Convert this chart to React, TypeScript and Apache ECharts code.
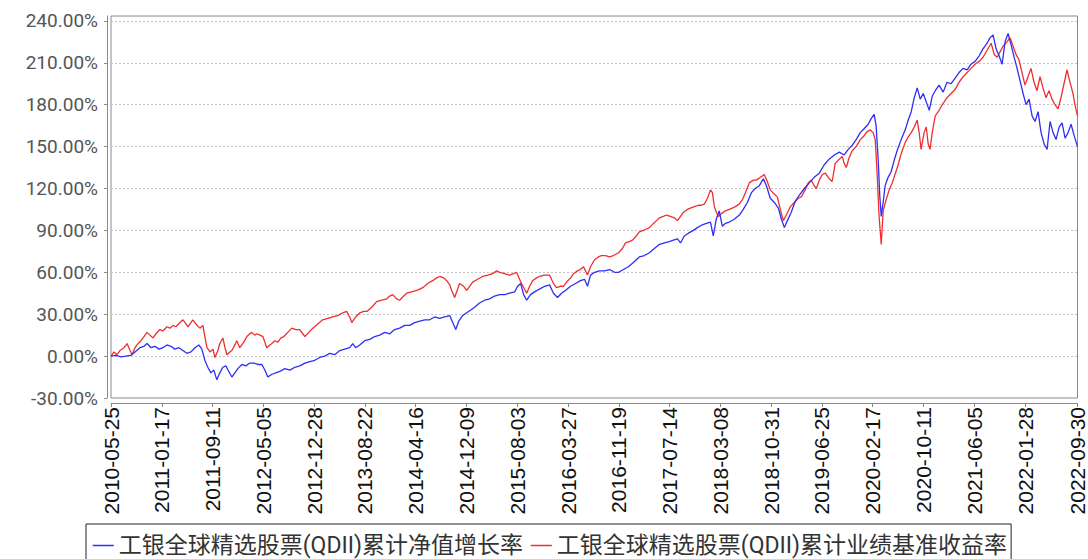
import React, { useEffect, useRef } from "react";
import * as echarts from "echarts";

// Fund inception date; x values are days since this date
const START_DATE = "2010-05-25";
const END_DAY = 4511; // 2022-09-30

const seriesNames = [
  "工银全球精选股票(QDII)累计净值增长率",
  "工银全球精选股票(QDII)累计业绩基准收益率",
];

// x-axis tick positions (days since start) and y-axis tick values (%)
const xTickDays = [0, 237, 474, 711, 948, 1185, 1422, 1659, 1896, 2133, 2370, 2607, 2844, 3081, 3318, 3555, 3792, 4029, 4266, 4511];
const yTickValues = [-30, 0, 30, 60, 90, 120, 150, 180, 210, 240];

// 累计净值增长率 (blue)
const navDays = [
  0, 23, 47, 70, 93, 112, 135, 154, 168, 187, 205, 224, 242, 261, 280, 298, 317, 336, 354, 373,
  392, 410, 424, 438, 452, 466, 480, 494, 508, 522, 536, 550, 564, 578, 592, 611, 629, 648, 667, 685,
  704, 718, 732, 751, 769, 788, 811, 835, 858, 881, 905, 928, 951, 974, 998, 1021, 1044, 1068, 1091, 1114,
  1128, 1142, 1161, 1184, 1208, 1231, 1254, 1278, 1301, 1324, 1347, 1371, 1394, 1417, 1441, 1464, 1487, 1511, 1534, 1557,
  1581, 1595, 1609, 1623, 1641, 1660, 1679, 1697, 1720, 1744, 1767, 1790, 1814, 1837, 1860, 1884, 1898, 1912, 1926, 1940,
  1958, 1977, 2000, 2024, 2047, 2065, 2084, 2103, 2121, 2145, 2168, 2191, 2210, 2224, 2238, 2257, 2280, 2303, 2327, 2350,
  2369, 2392, 2415, 2438, 2466, 2490, 2513, 2536, 2560, 2583, 2606, 2625, 2644, 2658, 2676, 2695, 2718, 2737, 2760, 2779,
  2798, 2811, 2825, 2839, 2853, 2867, 2886, 2909, 2933, 2951, 2970, 2989, 3007, 3026, 3045, 3059, 3077, 3096, 3115, 3129,
  3143, 3157, 3175, 3194, 3212, 3236, 3259, 3282, 3306, 3329, 3352, 3376, 3399, 3422, 3441, 3460, 3478, 3497, 3516, 3534,
  3548, 3562, 3571, 3581, 3588, 3595, 3604, 3613, 3627, 3641, 3655, 3669, 3688, 3707, 3721, 3735, 3749, 3763, 3777, 3791,
  3805, 3819, 3833, 3847, 3865, 3884, 3902, 3921, 3940, 3958, 3977, 3996, 4014, 4033, 4052, 4070, 4089, 4103, 4117, 4131,
  4145, 4159, 4173, 4187, 4201, 4215, 4229, 4243, 4257, 4271, 4285, 4299, 4313, 4327, 4341, 4355, 4369, 4383, 4397, 4411,
  4425, 4439, 4453, 4467, 4481, 4495, 4511,
];
const navPct = [
  0, 0.5, -0.5, 0, 0.5, 3, 6, 7, 9, 6, 7, 5, 6, 8, 7, 5, 6, 4, 2, 3,
  6, 8, 5, -3, -8, -12, -10, -17, -12, -8, -7, -11, -15, -12, -9, -6, -7, -5, -5, -6,
  -6, -10, -15, -13, -12, -11, -9, -10, -8, -7, -5, -4, -3, -1, 0, 2, 1, 4, 5, 6,
  9, 6, 8, 11, 12, 14, 15, 17, 16, 19, 20, 22, 22, 24, 25, 26, 26, 28, 27, 28,
  29, 24, 19, 25, 29, 31, 33, 35, 38, 40, 41, 43, 44, 44, 45, 46, 50, 52, 44, 40,
  44, 46, 48, 50, 51, 45, 42, 45, 47, 50, 52, 54, 55, 50, 58, 60, 61, 61, 62, 60,
  60, 62, 64, 67, 71, 72, 74, 77, 80, 81, 82, 83, 84, 81, 86, 88, 90, 92, 94, 95,
  96, 86, 98, 104, 93, 95, 96, 98, 101, 105, 110, 117, 120, 122, 127, 122, 113, 110, 106, 98,
  92, 97, 103, 111, 115, 120, 124, 128, 131, 137, 141, 144, 146, 144, 148, 151, 155, 160, 163, 166,
  170, 173, 165, 140, 115, 100, 110, 122, 128, 132, 140, 147, 155, 162, 169, 175, 185, 192, 184, 188,
  182, 176, 186, 190, 194, 189, 196, 195, 199, 203, 206, 205, 209, 211, 215, 220, 224, 228, 230, 220,
  215, 209, 225, 231, 223, 214, 206, 197, 188, 180, 184, 172, 168, 175, 160, 152, 148, 168, 160, 155,
  164, 167, 156, 160, 166, 158, 150,
];

// 累计业绩基准收益率 (red)
const benchDays = [
  0, 14, 28, 42, 61, 75, 89, 98, 112, 126, 140, 154, 168, 182, 196, 210, 228, 242, 261, 275,
  289, 303, 322, 336, 350, 359, 373, 382, 396, 415, 429, 438, 448, 462, 476, 485, 499, 508, 522, 532,
  541, 555, 564, 578, 587, 601, 620, 634, 648, 657, 671, 681, 695, 709, 718, 727, 741, 751, 765, 779,
  793, 807, 825, 844, 863, 881, 895, 905, 923, 942, 965, 988, 1012, 1035, 1058, 1082, 1100, 1114, 1124, 1142,
  1161, 1180, 1194, 1217, 1240, 1264, 1287, 1301, 1315, 1333, 1347, 1366, 1380, 1403, 1427, 1441, 1455, 1478, 1501, 1520,
  1534, 1553, 1567, 1581, 1590, 1604, 1618, 1627, 1646, 1660, 1674, 1688, 1711, 1734, 1758, 1781, 1800, 1814, 1837, 1860,
  1879, 1893, 1907, 1916, 1930, 1940, 1954, 1968, 1986, 2000, 2024, 2047, 2065, 2079, 2098, 2112, 2126, 2145, 2159, 2177,
  2191, 2205, 2215, 2224, 2238, 2257, 2275, 2289, 2308, 2327, 2345, 2369, 2387, 2401, 2420, 2434, 2452, 2466, 2485, 2499,
  2513, 2532, 2546, 2560, 2578, 2592, 2611, 2630, 2644, 2658, 2672, 2690, 2704, 2723, 2742, 2756, 2770, 2784, 2798, 2807,
  2816, 2825, 2835, 2849, 2867, 2886, 2900, 2914, 2933, 2947, 2961, 2979, 2998, 3012, 3031, 3049, 3063, 3077, 3096, 3110,
  3124, 3138, 3152, 3171, 3189, 3208, 3222, 3240, 3254, 3268, 3282, 3292, 3306, 3320, 3334, 3352, 3366, 3380, 3399, 3413,
  3422, 3432, 3445, 3459, 3478, 3497, 3511, 3525, 3543, 3557, 3567, 3576, 3585, 3595, 3604, 3618, 3632, 3646, 3655, 3674,
  3688, 3707, 3721, 3735, 3749, 3763, 3772, 3781, 3795, 3805, 3814, 3823, 3833, 3847, 3865, 3884, 3902, 3921, 3940, 3958,
  3977, 3996, 4014, 4033, 4052, 4070, 4089, 4108, 4122, 4136, 4150, 4164, 4182, 4196, 4210, 4224, 4238, 4252, 4266, 4280,
  4294, 4308, 4322, 4336, 4350, 4364, 4378, 4392, 4406, 4420, 4434, 4448, 4462, 4476, 4490, 4499, 4511,
];
const benchPct = [
  0, 3, 1, 4, 6, 9, 4, 1, 6, 9, 11, 14, 17, 15, 13, 16, 19, 18, 21, 20,
  22, 21, 24, 26, 23, 21, 24, 26, 23, 20, 22, 14, 6, 3, 5, -1, 4, 9, 13, 6,
  1, 3, 4, 8, 11, 6, 10, 14, 16, 17, 15, 16, 15, 14, 10, 6, 8, 9, 11, 10,
  13, 14, 17, 20, 19, 19, 16, 14, 17, 20, 23, 26, 27, 28, 29, 31, 32, 28, 24, 28,
  31, 32, 32, 35, 39, 40, 41, 43, 44, 41, 40, 43, 45, 46, 47, 48, 49, 52, 54, 56,
  57, 56, 54, 51, 47, 42, 48, 52, 50, 47, 50, 53, 55, 57, 58, 59, 61, 60, 59, 58,
  59, 60, 55, 52, 48, 45, 50, 54, 56, 57, 58, 58, 52, 49, 50, 50, 53, 56, 59, 61,
  62, 64, 61, 58, 64, 69, 71, 72, 72, 71, 72, 74, 77, 81, 82, 83, 86, 89, 90, 91,
  92, 95, 97, 99, 100, 101, 100, 99, 97, 100, 103, 105, 106, 107, 108, 108, 109, 113, 119, 117,
  107, 103, 100, 102, 104, 105, 106, 107, 109, 112, 117, 124, 126, 126, 128, 130, 125, 119, 116, 114,
  105, 97, 101, 107, 110, 113, 114, 119, 124, 126, 122, 120, 126, 130, 131, 127, 125, 138, 141, 143,
  138, 135, 142, 147, 150, 155, 157, 160, 162, 160, 155, 130, 100, 80, 104, 112, 119, 124, 128, 137,
  145, 153, 157, 160, 164, 169, 160, 148, 160, 164, 152, 148, 160, 172, 176, 181, 185, 188, 191, 196,
  200, 203, 206, 209, 211, 214, 219, 224, 216, 214, 218, 222, 225, 228, 222, 216, 212, 203, 194, 200,
  206, 196, 190, 200, 192, 185, 190, 184, 180, 177, 185, 195, 205, 196, 188, 180, 172,
];

const startMs = Date.parse(START_DATE + "T00:00:00Z");
const pad = (n: number) => (n < 10 ? "0" + n : "" + n);
const dayToDate = (d: number) => {
  const dt = new Date(startMs + d * 86400000);
  return dt.getUTCFullYear() + "-" + pad(dt.getUTCMonth() + 1) + "-" + pad(dt.getUTCDate());
};

export default function App() {
  const ref = useRef<HTMLDivElement>(null);
  useEffect(() => {
    if (!ref.current) return;
    const chart = echarts.init(ref.current, undefined, { renderer: "svg" });
    const nav = navDays.map((d, i) => [d, navPct[i]]);
    const bench = benchDays.map((d, i) => [d, benchPct[i]]);
    const blue = "#2e2ef5";
    const red = "#f02e2e";
    chart.setOption({
      animation: false,
      backgroundColor: "#ffffff",
      grid: {
        left: 111,
        top: 16,
        width: 967,
        height: 382,
        show: true,
        borderColor: "#8a8a8a",
        borderWidth: 1,
        backgroundColor: "transparent",
      },
      legend: {
        left: 86,
        top: 524,
        orient: "horizontal",
        padding: [10, 4, 10, 6],
        itemGap: 7,
        itemWidth: 21,
        itemHeight: 14,
        borderColor: "#222",
        borderWidth: 1,
        textStyle: {
          fontSize: 23,
          fontFamily: "Roboto, 'Noto Sans CJK SC', sans-serif",
          color: "#333",
        },
        data: [
          { name: seriesNames[0], itemStyle: { opacity: 0 }, lineStyle: { color: blue, width: 1.5, opacity: 1 } },
          { name: seriesNames[1], itemStyle: { opacity: 0 }, lineStyle: { color: red, width: 1.5, opacity: 1 } },
        ],
      },
      xAxis: {
        type: "value",
        min: 0,
        max: END_DAY,
        interval: 237,
        offset: 5,
        axisLine: { show: true, onZero: false, lineStyle: { color: "#8a8a8a", width: 1 } },
        axisTick: { show: true, length: 4, customValues: xTickDays, lineStyle: { color: "#8a8a8a" } },
        axisLabel: {
          customValues: xTickDays,
          rotate: 90,
          margin: 4,
          fontSize: 21,
          fontFamily: "'Liberation Sans', Arial, sans-serif",
          color: "#111",
          formatter: (v: number) => (xTickDays.indexOf(v) >= 0 ? dayToDate(v) : ""),
        },
        splitLine: { show: false },
      },
      yAxis: {
        type: "value",
        min: -30,
        max: 243.5,
        interval: 30,
        offset: 4,
        axisLine: { show: true, onZero: false, lineStyle: { color: "#8a8a8a", width: 1 } },
        axisTick: { show: true, length: 3, customValues: yTickValues, lineStyle: { color: "#8a8a8a" } },
        axisLabel: {
          customValues: yTickValues,
          margin: 9,
          fontSize: 19,
          fontFamily: "Roboto, sans-serif",
          color: "#555",
          formatter: (v: number) => (yTickValues.indexOf(v) >= 0 ? v.toFixed(2) + "%" : ""),
        },
        splitLine: { show: true, lineStyle: { color: "#c4c4c4", width: 1, type: [2, 2] } },
      },
      series: [
        {
          name: seriesNames[0],
          type: "line",
          data: nav,
          symbol: "none",
          showSymbol: false,
          lineStyle: { color: blue, width: 1.3 },
          itemStyle: { color: blue },
          z: 3,
        },
        {
          name: seriesNames[1],
          type: "line",
          data: bench,
          symbol: "none",
          showSymbol: false,
          lineStyle: { color: red, width: 1.3 },
          itemStyle: { color: red },
          z: 2,
        },
      ],
    });
    return () => chart.dispose();
  }, []);
  return (
    <div
      ref={ref}
      style={{ position: "absolute", left: 0, top: 0, width: 1088, height: 559, background: "#fff" }}
    />
  );
}
